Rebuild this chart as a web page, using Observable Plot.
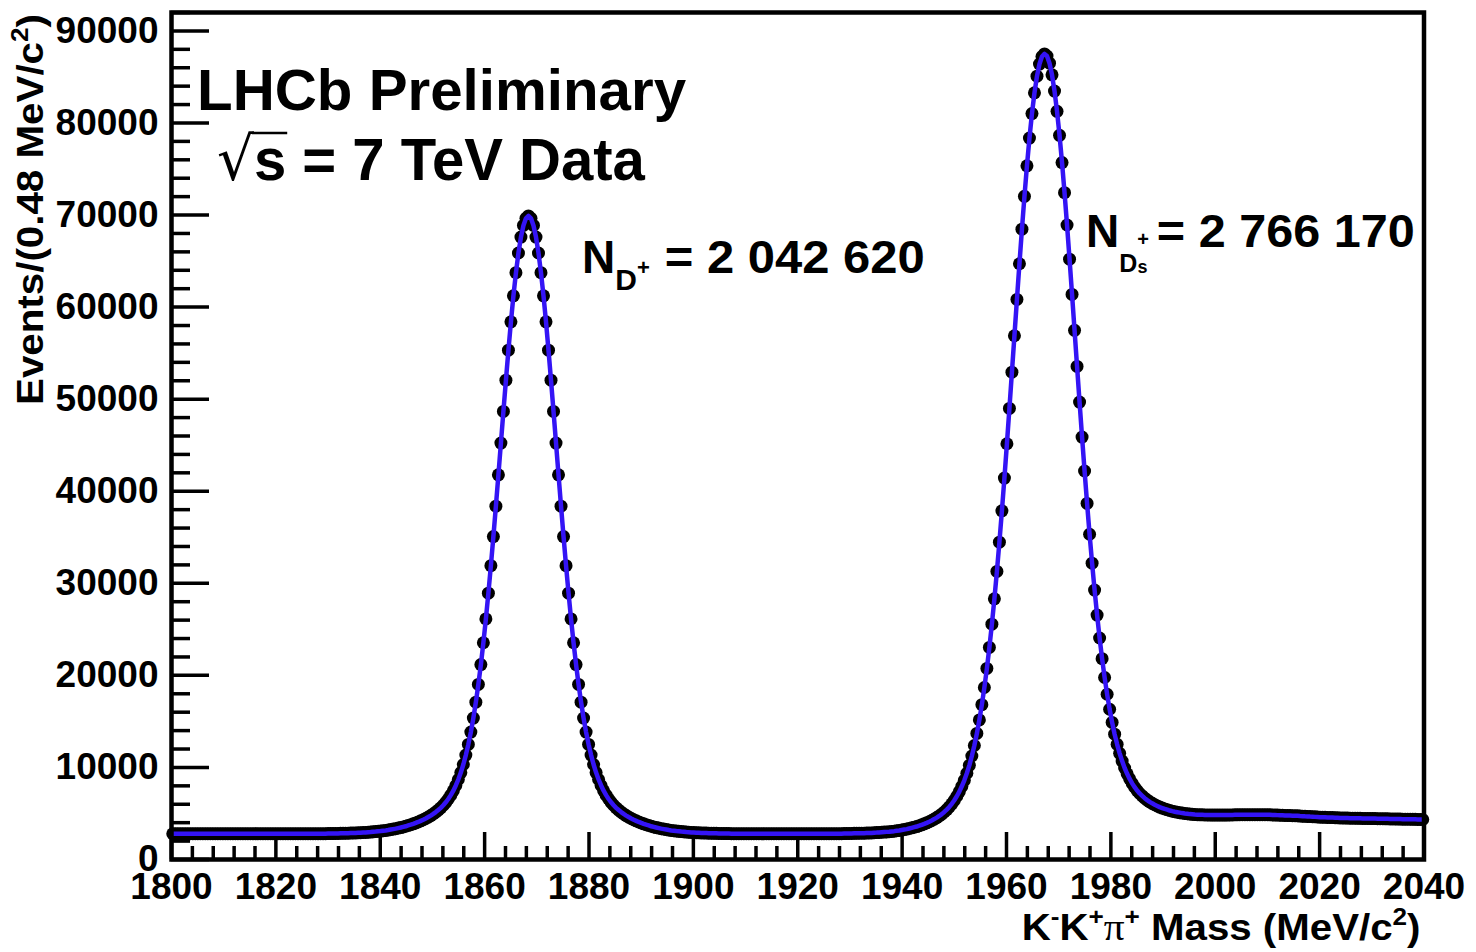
<!DOCTYPE html>
<html>
<head>
<meta charset="utf-8">
<script src="https://cdn.jsdelivr.net/npm/d3@7"></script>
<script src="https://cdn.jsdelivr.net/npm/@observablehq/plot@0.6"></script>
<style>
  html, body { margin: 0; padding: 0; background: #fff; }
  #chart svg { display: block; }
</style>
</head>
<body>
<div id="chart"></div>
<script>
// ---- Data: K-K+pi+ invariant mass histogram, 500 bins of 0.48 MeV from 1800 MeV ----
const binStart = 1800;
const binWidth = 0.48;
const counts = [
  2800,2800,2800,2800,2800,2800,2800,2800,2800,2800,
  2800,2800,2800,2800,2800,2800,2800,2800,2800,2800,
  2800,2800,2800,2800,2800,2800,2800,2800,2800,2800,
  2800,2800,2800,2800,2800,2800,2800,2800,2800,2800,
  2800,2800,2800,2800,2800,2800,2800,2800,2800,2800,
  2800,2800,2810,2810,2810,2810,2810,2810,2810,2810,
  2810,2810,2820,2820,2820,2830,2830,2840,2840,2850,
  2860,2870,2880,2890,2900,2910,2930,2940,2960,2980,
  3010,3030,3060,3090,3130,3160,3200,3250,3300,3350,
  3410,3470,3540,3610,3700,3780,3870,3970,4080,4200,
  4320,4460,4610,4770,4950,5150,5370,5610,5890,6210,
  6570,6990,7470,8040,8690,9440,10320,11340,12500,13840,
  15360,17090,19020,21170,23540,26130,28930,31920,35080,38380,
  41780,45230,48670,52060,55320,58400,61230,63740,65880,67610,
  68870,69640,69900,69640,68870,67610,65880,63740,61230,58400,
  55320,52060,48670,45230,41780,38380,35080,31920,28930,26130,
  23540,21170,19020,17090,15360,13840,12500,11340,10320,9440,
  8690,8040,7470,6990,6570,6210,5890,5610,5370,5150,
  4950,4770,4610,4460,4320,4200,4080,3970,3870,3780,
  3700,3610,3540,3470,3410,3350,3300,3250,3200,3160,
  3130,3090,3060,3030,3010,2980,2960,2940,2930,2910,
  2900,2890,2880,2870,2860,2850,2840,2840,2830,2830,
  2820,2820,2820,2810,2810,2810,2810,2810,2810,2810,
  2810,2810,2810,2800,2800,2800,2800,2800,2800,2800,
  2800,2800,2800,2800,2800,2800,2800,2800,2800,2800,
  2800,2800,2800,2800,2800,2800,2800,2800,2810,2810,
  2810,2810,2810,2810,2810,2810,2810,2810,2820,2820,
  2830,2830,2840,2840,2850,2850,2860,2870,2880,2890,
  2910,2920,2940,2960,2980,3000,3020,3050,3080,3120,
  3150,3200,3250,3300,3370,3440,3510,3580,3670,3770,
  3870,3980,4100,4240,4390,4550,4730,4930,5160,5420,
  5710,6050,6430,6870,7370,7950,8600,9370,10230,11240,
  12380,13690,15160,16820,18680,20750,23040,25560,28310,31290,
  34470,37870,41430,45160,49000,52930,56890,60840,64710,68470,
  72030,75350,78360,81020,83270,85080,86400,87220,87500,87270,
  86500,85230,83470,81270,78660,75700,72430,68920,65210,61380,
  57480,53560,49680,45880,42200,38680,35330,32190,29260,26550,
  24060,21810,19770,17950,16320,14890,13610,12510,11530,10690,
  9940,9310,8750,8270,7850,7490,7170,6910,6660,6450,
  6260,6100,5950,5820,5690,5590,5490,5410,5320,5250,
  5190,5140,5090,5040,5000,4970,4930,4910,4880,4870,
  4850,4850,4840,4840,4830,4830,4830,4830,4830,4830,
  4830,4830,4840,4840,4850,4850,4860,4860,4870,4860,
  4860,4860,4860,4860,4860,4860,4860,4860,4860,4840,
  4830,4820,4810,4800,4790,4780,4770,4760,4750,4740,
  4720,4710,4690,4680,4660,4650,4630,4620,4600,4590,
  4580,4570,4560,4550,4540,4530,4520,4510,4500,4495,
  4490,4485,4480,4475,4470,4465,4460,4455,4450,4445,
  4440,4435,4430,4425,4420,4415,4410,4405,4400,4395,
  4390,4385,4380,4375,4370,4365,4360,4355,4350,4345
];

// ---- Axes ----
const xDomain = [1800, 2040];
const yDomain = [0, 92000];
const xTickLabels = [1800, 1820, 1840, 1860, 1880, 1900, 1920, 1940, 1960, 1980, 2000, 2020, 2040];
const yTickLabels = [0, 10000, 20000, 30000, 40000, 50000, 60000, 70000, 80000, 90000];
const xMinorTicks = d3.range(1800, 2040.01, 4).filter(v => v % 20 !== 0);
const yMinorTicks = d3.range(0, 92000.1, 2000).filter(v => v % 10000 !== 0);

// ---- Text ----
const titleY = ["Events/(0.48 MeV/c", "2", ")"];
const titleX = [["K", 0], ["-", 1], ["K", 0], ["+", 1], ["π", 2], ["+", 1], [" Mass (MeV/c", 0], ["2", 1], [")", 0]];
const headline1 = "LHCb Preliminary";
const headline2 = ["√", "s", " = 7 TeV Data"];
const yieldDp = {sym: "N", sub: "D", sup: "+", value: "= 2 042 620", x: 1878.75, y: 63650, xv: 1894.6};
const yieldDs = {sym: "N", sub: "D", sup: "+", subsub: "s", value: "= 2 766 170", x: 1975.33, y: 66475, xv: 1988.9};
const headPos = {x1: 1805, y1: 81350, x2: 1808.8, y2: 73750};

const data = counts.map((v, i) => ({mass: binStart + binWidth * (i + 0.5), events: v}));

const W = 1476, H = 952, ML = 171, MR = 52.5, MT = 12, MB = 93;
const FW = W - ML - MR, FH = H - MT - MB;
const FONT = "'Liberation Sans', Arial, Helvetica, sans-serif";

const plot = Plot.plot({
  width: W, height: H,
  marginLeft: ML, marginRight: MR, marginTop: MT, marginBottom: MB,
  style: {fontFamily: FONT, fontWeight: "bold", fontSize: "37px", color: "black", background: "white", overflow: "visible"},
  x: {domain: xDomain},
  y: {domain: yDomain},
  marks: [
    Plot.tickX(xMinorTicks, {x: d => d, stroke: "black", strokeWidth: 3.5, insetTop: FH - 13}),
    Plot.tickX(xTickLabels, {x: d => d, stroke: "black", strokeWidth: 3.5, insetTop: FH - 27}),
    Plot.tickY(yMinorTicks, {y: d => d, stroke: "black", strokeWidth: 3.5, insetRight: FW - 19}),
    Plot.tickY(yTickLabels, {y: d => d, stroke: "black", strokeWidth: 3.5, insetRight: FW - 38}),
    Plot.axisX(xTickLabels, {tickSize: 0, tickPadding: 13, label: null, tickFormat: d => String(d), fontSize: 37, fontWeight: "bold"}),
    Plot.axisY(yTickLabels, {tickSize: 0, tickPadding: 13, label: null, tickFormat: d => String(d), fontSize: 37, fontWeight: "bold"}),
    Plot.dot(data, {x: "mass", y: "events", r: 6.5, fill: "black", stroke: null}),
    Plot.line(data, {x: "mass", y: "events", stroke: "#3414f5", strokeWidth: 4.5}),
    Plot.frame({stroke: "black", strokeWidth: 4.5})
  ]
});
document.getElementById("chart").appendChild(plot);

const X = v => plot.scale("x").apply(v);
const Y = v => plot.scale("y").apply(v);
const svg = d3.select(plot);
const g = svg.append("g").attr("font-family", FONT).attr("font-weight", "bold")
  .attr("fill", "black").attr("text-anchor", "start");

// y-axis title (rotated)
{
  const t = g.append("text")
    .attr("transform", `translate(${ML - 128},${Y(0) - 454}) rotate(-90)`)
    .attr("text-anchor", "start").attr("font-size", 37)
    .attr("textLength", 391).attr("lengthAdjust", "spacingAndGlyphs");
  t.append("tspan").text(titleY[0]);
  t.append("tspan").attr("font-size", 24).attr("dy", -15).text(titleY[1]);
  t.append("tspan").attr("font-size", 37).attr("dy", 15).text(titleY[2]);
}
// x-axis title
{
  const t = g.append("text")
    .attr("x", X(1963)).attr("y", Y(0) + 81)
    .attr("text-anchor", "start").attr("font-size", 37)
    .attr("textLength", X(2040) - X(1963) - 3).attr("lengthAdjust", "spacingAndGlyphs");
  let lvl = 0;
  for (const [s, kind] of titleX) {
    const sp = t.append("tspan").text(s);
    const newLvl = kind === 1 ? 1 : 0;
    const dy = newLvl === lvl ? 0 : (newLvl === 1 ? -15 : 15);
    if (dy) sp.attr("dy", dy);
    lvl = newLvl;
    if (kind === 1) sp.attr("font-size", 24);
    else if (kind === 2) sp.attr("font-family", "'Liberation Serif', serif").attr("font-weight", "normal").attr("font-size", 38);
    else sp.attr("font-size", 37);
  }
}
// Headline
g.append("text").attr("x", X(headPos.x1)).attr("y", Y(headPos.y1))
  .attr("font-size", 58).attr("textLength", 489).attr("lengthAdjust", "spacingAndGlyphs")
  .text(headline1);
{
  const t = g.append("text").attr("x", X(headPos.x2)).attr("y", Y(headPos.y2))
    .attr("font-size", 60).attr("textLength", 428).attr("lengthAdjust", "spacingAndGlyphs");
  t.append("tspan").attr("font-weight", "normal").attr("font-family", "'DejaVu Sans', sans-serif").text(headline2[0]);
  t.append("tspan").text(headline2[1]);
  t.append("tspan").text(headline2[2]);
  // radical bar over "s"
  const node = t.node();
  try {
    const e0 = node.getExtentOfChar(0), e1 = node.getExtentOfChar(1);
    const by = Y(headPos.y2) - 47;
    g.append("line")
      .attr("x1", e0.x + e0.width - 2).attr("x2", e1.x + e1.width + 1)
      .attr("y1", by).attr("y2", by)
      .attr("stroke", "black").attr("stroke-width", 2.5);
  } catch (err) {}
}
// Yields
{
  const t = g.append("text").attr("x", X(yieldDp.x)).attr("y", Y(yieldDp.y)).attr("font-size", 46);
  t.append("tspan").text(yieldDp.sym);
  t.append("tspan").attr("font-size", 30).attr("dy", 17).text(yieldDp.sub);
  t.append("tspan").attr("font-size", 22).attr("dy", -15).text(yieldDp.sup);
  g.append("text").attr("x", X(yieldDp.xv)).attr("y", Y(yieldDp.y)).attr("font-size", 46)
    .attr("textLength", 260).attr("lengthAdjust", "spacingAndGlyphs").text(yieldDp.value);
}
{
  const t = g.append("text").attr("x", X(yieldDs.x)).attr("y", Y(yieldDs.y)).attr("font-size", 46);
  t.append("tspan").text(yieldDs.sym);
  t.append("tspan").attr("font-size", 25).attr("dy", 25).text(yieldDs.sub);
  t.append("tspan").attr("font-size", 20).attr("dy", -26).text(yieldDs.sup);
  t.append("tspan").attr("font-size", 18).attr("dx", -11.5).attr("dy", 27).text(yieldDs.subsub);
  g.append("text").attr("x", X(yieldDs.xv)).attr("y", Y(yieldDs.y)).attr("font-size", 46)
    .attr("textLength", 258).attr("lengthAdjust", "spacingAndGlyphs").text(yieldDs.value);
}
</script>
</body>
</html>
